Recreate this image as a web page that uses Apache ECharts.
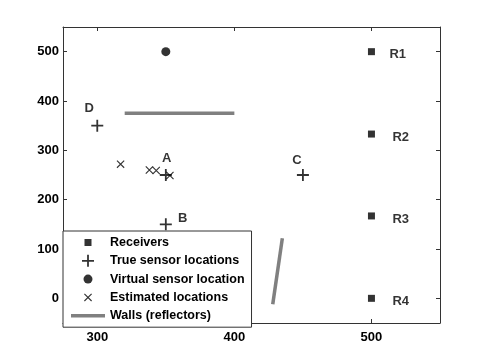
<!DOCTYPE html>
<html>
<head>
<meta charset="utf-8">
<script src="https://cdn.jsdelivr.net/npm/echarts@6/dist/echarts.min.js"></script>
<style>html,body{margin:0;padding:0;background:#fff}#c{width:485px;height:364px}</style>
</head>
<body>
<div id="c"></div>
<script>
// ---- data ----
var xTicks = [300, 400, 500];
var yTicks = [0, 100, 200, 300, 400, 500];
var receiverNames = ['R1', 'R2', 'R3', 'R4'];
var receiverX = [500, 500, 500, 500];
var receiverY = [500, 333, 167, 0];
var sensorNames = ['A', 'B', 'C', 'D'];
var sensorX = [350, 350, 450, 300];
var sensorY = [250, 150, 250, 350];
var virtualX = [350];
var virtualY = [500];
var estX = [317, 338, 343, 353];
var estY = [272, 260, 259, 249];
var wall1 = [[320, 375], [400, 375]];
var wall2 = [[428, -12], [435, 122]];

// ---- styles ----
var FONT = 'Liberation Sans, Arial, Helvetica, sans-serif';
var SYM_RECT = 'path://M0,0M12,12M2.5,2.5h7v7h-7z';
var SYM_PLUS = 'path://M0,5.1h12v1.8h-12z M5.1,0h1.8v12h-1.8z';
var SYM_CIRC = 'path://M0,0M12,12M1.5,6a4.5,4.5 0 1,0 9,0a4.5,4.5 0 1,0 -9,0z';
var SYM_X = 'path://M0,0M12,12M2,2.8L2.8,2L10,9.2L9.2,10Z M9.2,2L10,2.8L2.8,10L2,9.2Z';
var SYM_WALL = 'path://M0,0h34v3.5h-34z';

function zip(xs, ys) { return xs.map(function (x, i) { return [x, ys[i]]; }); }

var recvOffsets = [[-3, 3], [0, 3], [0, 3], [0, 3]];
var sensorOffsets = [[1, -17], [17, -6], [-6, -15], [-8, -17]];

var axisLineStyle = { color: '#333', width: 1 };
var labelStyle = { color: '#000', fontFamily: FONT, fontWeight: 'bold', fontSize: 13 };

var option = {
  animation: false,
  backgroundColor: '#fff',
  grid: { left: 63, right: 45, top: 27, bottom: 41, containLabel: false },
  xAxis: [{
    type: 'value', min: 275, max: 550, position: 'bottom',
    axisLine: { show: true, onZero: false, lineStyle: axisLineStyle },
    axisTick: { show: true, inside: true, length: 4, customValues: xTicks, lineStyle: axisLineStyle },
    axisLabel: Object.assign({ customValues: xTicks, margin: 8 }, labelStyle),
    splitLine: { show: false }
  }, {
    type: 'value', min: 275, max: 550, position: 'top',
    axisLine: { show: true, onZero: false, lineStyle: axisLineStyle },
    axisTick: { show: true, inside: true, length: 4, customValues: xTicks, lineStyle: axisLineStyle },
    axisLabel: { show: false },
    splitLine: { show: false }
  }],
  yAxis: [{
    type: 'value', min: -50, max: 550, position: 'left',
    axisLine: { show: true, onZero: false, lineStyle: axisLineStyle },
    axisTick: { show: true, inside: true, length: 4, customValues: yTicks, lineStyle: axisLineStyle },
    axisLabel: Object.assign({ customValues: yTicks, margin: 4 }, labelStyle),
    splitLine: { show: false }
  }, {
    type: 'value', min: -50, max: 550, position: 'right',
    axisLine: { show: true, onZero: false, lineStyle: axisLineStyle },
    axisTick: { show: true, inside: true, length: 4, customValues: yTicks, lineStyle: axisLineStyle },
    axisLabel: { show: false },
    splitLine: { show: false }
  }],
  legend: {
    orient: 'vertical',
    left: 63, top: 231,
    padding: [5, 7, 5, 8],
    itemWidth: 34, itemHeight: 12, itemGap: 5.3,
    backgroundColor: '#fff',
    borderColor: '#333', borderWidth: 1, borderRadius: 0,
    textStyle: { color: '#000', fontFamily: FONT, fontWeight: 'bold', fontSize: 12.5 },
    data: ['Receivers', 'True sensor locations', 'Virtual sensor location', 'Estimated locations',
      { name: 'Walls (reflectors)', icon: SYM_WALL }]
  },
  series: [{
    name: 'Walls (reflectors)', type: 'line', data: wall1, showSymbol: false, symbol: 'none',
    lineStyle: { color: '#808080', width: 3.5 }, itemStyle: { color: '#808080' }, z: 1
  }, {
    name: 'Walls (reflectors)', type: 'line', data: wall2, showSymbol: false, symbol: 'none',
    lineStyle: { color: '#808080', width: 3.5 }, itemStyle: { color: '#808080' }, z: 1
  }, {
    name: 'Receivers', type: 'scatter', symbol: SYM_RECT, symbolSize: 12,
    itemStyle: { color: '#000' },
    data: receiverNames.map(function (n, i) {
      return { name: n, value: [receiverX[i], receiverY[i]],
        label: { show: true, position: 'right', distance: 15, offset: recvOffsets[i], formatter: '{b}' } };
    }),
    label: Object.assign({}, labelStyle), z: 3
  }, {
    name: 'True sensor locations', type: 'scatter', symbol: SYM_PLUS, symbolSize: 12,
    itemStyle: { color: '#000' },
    data: sensorNames.map(function (n, i) {
      return { name: n, value: [sensorX[i], sensorY[i]],
        label: { show: true, position: 'inside', offset: sensorOffsets[i], formatter: '{b}' } };
    }),
    label: Object.assign({}, labelStyle), z: 3
  }, {
    name: 'Virtual sensor location', type: 'scatter', symbol: SYM_CIRC, symbolSize: 12,
    itemStyle: { color: '#000' },
    data: zip(virtualX, virtualY), z: 3
  }, {
    name: 'Estimated locations', type: 'scatter', symbol: SYM_X, symbolSize: 12,
    itemStyle: { color: '#000' },
    data: zip(estX, estY), z: 3
  }]
};

var chart = echarts.init(document.getElementById('c'), null, { renderer: 'canvas' });
chart.setOption(option);
</script>
</body>
</html>
